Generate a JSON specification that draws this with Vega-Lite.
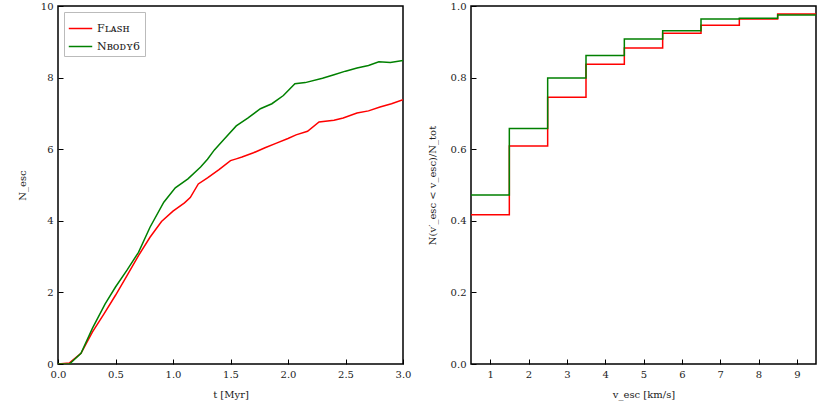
{
  "$schema": "https://vega.github.io/schema/vega-lite/v6.json",
  "background": "white",
  "padding": {"left": 16, "top": 0, "right": 5, "bottom": 5},
  "datasets": {
    "escapes": [
      {"t": 0.0, "n": 0.0, "code": "Flash"},
      {"t": 0.1, "n": 0.03, "code": "Flash"},
      {"t": 0.2, "n": 0.3, "code": "Flash"},
      {"t": 0.3, "n": 0.9, "code": "Flash"},
      {"t": 0.4, "n": 1.4, "code": "Flash"},
      {"t": 0.5, "n": 1.92, "code": "Flash"},
      {"t": 0.6, "n": 2.47, "code": "Flash"},
      {"t": 0.7, "n": 3.03, "code": "Flash"},
      {"t": 0.8, "n": 3.54, "code": "Flash"},
      {"t": 0.9, "n": 3.98, "code": "Flash"},
      {"t": 1.0, "n": 4.27, "code": "Flash"},
      {"t": 1.1, "n": 4.5, "code": "Flash"},
      {"t": 1.15, "n": 4.65, "code": "Flash"},
      {"t": 1.22, "n": 5.03, "code": "Flash"},
      {"t": 1.3, "n": 5.2, "code": "Flash"},
      {"t": 1.4, "n": 5.43, "code": "Flash"},
      {"t": 1.5, "n": 5.68, "code": "Flash"},
      {"t": 1.55, "n": 5.73, "code": "Flash"},
      {"t": 1.6, "n": 5.78, "code": "Flash"},
      {"t": 1.7, "n": 5.9, "code": "Flash"},
      {"t": 1.8, "n": 6.04, "code": "Flash"},
      {"t": 1.9, "n": 6.17, "code": "Flash"},
      {"t": 2.0, "n": 6.3, "code": "Flash"},
      {"t": 2.07, "n": 6.4, "code": "Flash"},
      {"t": 2.17, "n": 6.5, "code": "Flash"},
      {"t": 2.27, "n": 6.76, "code": "Flash"},
      {"t": 2.4, "n": 6.81, "code": "Flash"},
      {"t": 2.48, "n": 6.87, "code": "Flash"},
      {"t": 2.6, "n": 7.01, "code": "Flash"},
      {"t": 2.7, "n": 7.07, "code": "Flash"},
      {"t": 2.8, "n": 7.18, "code": "Flash"},
      {"t": 2.9, "n": 7.27, "code": "Flash"},
      {"t": 3.0, "n": 7.38, "code": "Flash"},
      {"t": 0.0, "n": 0.0, "code": "Nbody6"},
      {"t": 0.1, "n": 0.0, "code": "Nbody6"},
      {"t": 0.2, "n": 0.3, "code": "Nbody6"},
      {"t": 0.3, "n": 1.0, "code": "Nbody6"},
      {"t": 0.41, "n": 1.68, "code": "Nbody6"},
      {"t": 0.5, "n": 2.15, "code": "Nbody6"},
      {"t": 0.6, "n": 2.62, "code": "Nbody6"},
      {"t": 0.7, "n": 3.12, "code": "Nbody6"},
      {"t": 0.8, "n": 3.82, "code": "Nbody6"},
      {"t": 0.92, "n": 4.52, "code": "Nbody6"},
      {"t": 1.02, "n": 4.92, "code": "Nbody6"},
      {"t": 1.13, "n": 5.17, "code": "Nbody6"},
      {"t": 1.24, "n": 5.5, "code": "Nbody6"},
      {"t": 1.3, "n": 5.72, "code": "Nbody6"},
      {"t": 1.36, "n": 5.98, "code": "Nbody6"},
      {"t": 1.45, "n": 6.3, "code": "Nbody6"},
      {"t": 1.55, "n": 6.65, "code": "Nbody6"},
      {"t": 1.65, "n": 6.87, "code": "Nbody6"},
      {"t": 1.76, "n": 7.13, "code": "Nbody6"},
      {"t": 1.86, "n": 7.27, "code": "Nbody6"},
      {"t": 1.96, "n": 7.5, "code": "Nbody6"},
      {"t": 2.06, "n": 7.83, "code": "Nbody6"},
      {"t": 2.15, "n": 7.86, "code": "Nbody6"},
      {"t": 2.3, "n": 7.98, "code": "Nbody6"},
      {"t": 2.4, "n": 8.08, "code": "Nbody6"},
      {"t": 2.5, "n": 8.18, "code": "Nbody6"},
      {"t": 2.6, "n": 8.27, "code": "Nbody6"},
      {"t": 2.7, "n": 8.34, "code": "Nbody6"},
      {"t": 2.79, "n": 8.44, "code": "Nbody6"},
      {"t": 2.89, "n": 8.42, "code": "Nbody6"},
      {"t": 3.0, "n": 8.48, "code": "Nbody6"}
    ],
    "cdf": [
      {"v": 0.5, "frac": 0.417, "code": "Flash"},
      {"v": 1.5, "frac": 0.609, "code": "Flash"},
      {"v": 2.5, "frac": 0.745, "code": "Flash"},
      {"v": 3.5, "frac": 0.837, "code": "Flash"},
      {"v": 4.5, "frac": 0.883, "code": "Flash"},
      {"v": 5.5, "frac": 0.924, "code": "Flash"},
      {"v": 6.5, "frac": 0.946, "code": "Flash"},
      {"v": 7.5, "frac": 0.964, "code": "Flash"},
      {"v": 8.5, "frac": 0.978, "code": "Flash"},
      {"v": 9.5, "frac": 0.978, "code": "Flash"},
      {"v": 0.5, "frac": 0.472, "code": "Nbody6"},
      {"v": 1.5, "frac": 0.658, "code": "Nbody6"},
      {"v": 2.5, "frac": 0.799, "code": "Nbody6"},
      {"v": 3.5, "frac": 0.862, "code": "Nbody6"},
      {"v": 4.5, "frac": 0.908, "code": "Nbody6"},
      {"v": 5.5, "frac": 0.931, "code": "Nbody6"},
      {"v": 6.5, "frac": 0.964, "code": "Nbody6"},
      {"v": 7.5, "frac": 0.966, "code": "Nbody6"},
      {"v": 8.5, "frac": 0.975, "code": "Nbody6"},
      {"v": 9.5, "frac": 0.975, "code": "Nbody6"}
    ]
  },
  "hconcat": [
    {
      "width": 345,
      "height": 358,
      "data": {"name": "escapes"},
      "mark": {"type": "line", "strokeWidth": 1.5, "clip": true},
      "encoding": {
        "x": {
          "field": "t", "type": "quantitative", "title": "t [Myr]",
          "scale": {"domain": [0, 3], "nice": false},
          "axis": {"values": [0, 0.5, 1, 1.5, 2, 2.5, 3], "format": ".1f"}
        },
        "y": {
          "field": "n", "type": "quantitative", "title": "N_esc",
          "scale": {"domain": [0, 10], "nice": false},
          "axis": {"values": [0, 2, 4, 6, 8, 10], "format": "d"}
        },
        "color": {
          "field": "code", "type": "nominal",
          "scale": {"domain": ["Flash", "Nbody6"], "range": ["#ff0000", "#008000"]},
          "legend": {
            "title": null,
            "orient": "top-left",
            "labelExpr": "datum.label == 'Flash' ? 'Fʟᴀꜱʜ' : 'Nʙᴏᴅʏ6'"
          }
        },
        "order": {"field": "t", "type": "quantitative"}
      }
    },
    {
      "width": 345,
      "height": 358,
      "data": {"name": "cdf"},
      "mark": {"type": "line", "strokeWidth": 1.5, "interpolate": "step-after", "clip": true},
      "encoding": {
        "x": {
          "field": "v", "type": "quantitative", "title": "v_esc [km/s]",
          "scale": {"domain": [0.5, 9.5], "nice": false},
          "axis": {"values": [1, 2, 3, 4, 5, 6, 7, 8, 9], "format": "d"}
        },
        "y": {
          "field": "frac", "type": "quantitative", "title": "N(v′_esc < v_esc)/N_tot",
          "scale": {"domain": [0, 1], "nice": false},
          "axis": {"values": [0, 0.2, 0.4, 0.6, 0.8, 1], "format": ".1f"}
        },
        "color": {
          "field": "code", "type": "nominal",
          "scale": {"domain": ["Flash", "Nbody6"], "range": ["#ff0000", "#008000"]},
          "legend": null
        },
        "order": {"field": "v", "type": "quantitative"}
      }
    }
  ],
  "spacing": 14,
  "resolve": {"legend": {"color": "independent"}, "scale": {"color": "independent"}},
  "config": {
    "font": "DejaVu Serif",
    "view": {"stroke": "black", "strokeWidth": 1.5},
    "axis": {
      "domain": false,
      "grid": false,
      "ticks": true,
      "tickColor": "black",
      "tickSize": -5,
      "tickWidth": 1,
      "labelFlush": false,
      "labelPadding": 10,
      "labelFont": "DejaVu Serif",
      "labelFontSize": 10,
      "labelColor": "#222",
      "titleFont": "DejaVu Serif",
      "titleFontSize": 10,
      "titleFontWeight": "normal",
      "titleColor": "#222"
    },
    "axisX": {"titlePadding": 10},
    "axisY": {"titlePadding": 13},
    "legend": {
      "padding": 4,
      "offset": 6,
      "strokeColor": "#bbbbbb",
      "fillColor": "white",
      "symbolType": "stroke",
      "symbolSize": 550,
      "symbolStrokeWidth": 1.5,
      "labelFont": "DejaVu Serif",
      "labelFontSize": 11,
      "labelColor": "#222",
      "rowPadding": -5
    }
  }
}
